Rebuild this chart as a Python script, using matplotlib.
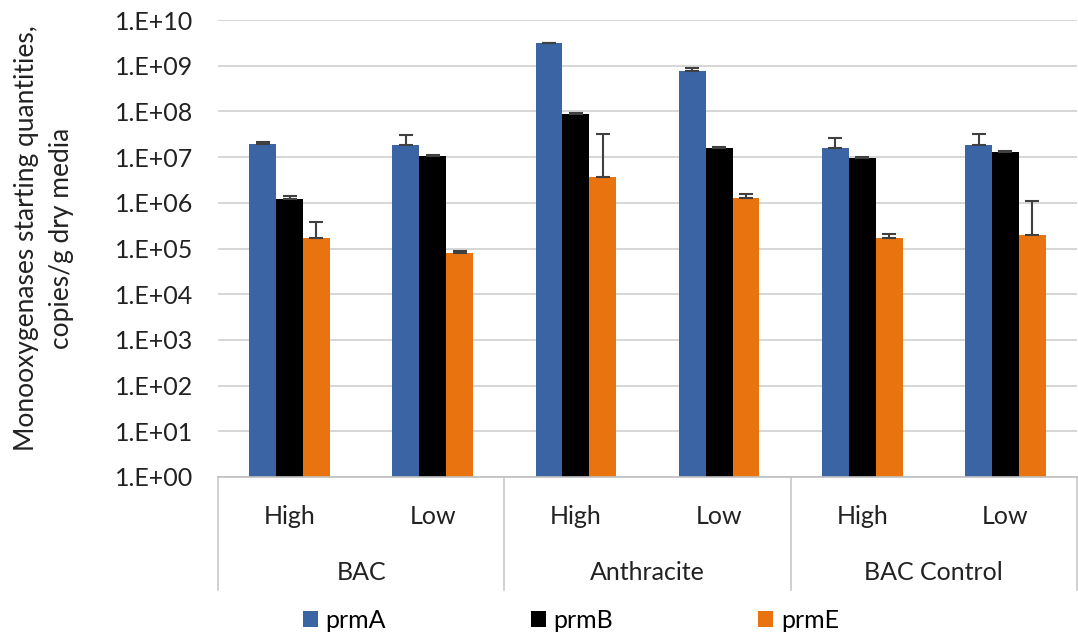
import numpy as np
import matplotlib
matplotlib.use("Agg")
import matplotlib.pyplot as plt
from matplotlib.ticker import FixedLocator, FuncFormatter, NullLocator
from matplotlib.patches import Patch

plt.rcParams['font.family'] = ['Lato', 'DejaVu Sans']

groups = ["BAC", "Anthracite", "BAC Control"]
levels = ["High", "Low"]
series = ["prmA", "prmB", "prmE"]

prmA = [1.95e7, 1.8e7, 3.1e9, 7.7e8, 1.6e7, 1.8e7]
prmB = [1.2e6, 1.05e7, 8.7e7, 1.6e7, 9.7e6, 1.3e7]
prmE = [1.7e5, 8.0e4, 3.7e6, 1.27e6, 1.7e5, 2.0e5]

prmA_err = [1.5e6, 1.2e7, 1.0e8, 1.3e8, 1.0e7, 1.4e7]
prmB_err = [2.0e5, 5.0e5, 3.0e6, 8.0e5, 4.0e5, 4.0e5]
prmE_err = [2.1e5, 8.0e3, 2.8e7, 2.8e5, 4.0e4, 9.0e5]

colors = ["#3a64a4", "#000000", "#e8730f"]
txt = '#222222'

fig = plt.figure(figsize=(10.78, 6.39), dpi=100)
ax = fig.add_axes([218/1078, 1-477/639, (1077-218)/1078, (477-20)/639])

n = len(prmA)
x = np.arange(n)
w = 0.188
vals = [prmA, prmB, prmE]
errs = [prmA_err, prmB_err, prmE_err]
for i, (v, e, c, name) in enumerate(zip(vals, errs, colors, series)):
    xi = x + (i - 1) * w
    ax.bar(xi, v, width=w, color=c, label=name, zorder=2)
    ax.errorbar(xi, v, yerr=[np.zeros(n), e], fmt='none', ecolor='#404040',
                elinewidth=1.5, capsize=5, capthick=1.5, zorder=3)

ax.set_yscale('log')
ax.set_ylim(1, 1e10)
ax.set_xlim(-0.5, n - 0.5)
ax.yaxis.set_major_locator(FixedLocator([10.0**k for k in range(11)]))
ax.yaxis.set_minor_locator(NullLocator())
ax.yaxis.set_major_formatter(FuncFormatter(lambda v, p: "1.E+%02d" % int(round(np.log10(v)))))
ax.tick_params(axis='y', length=0, labelsize=18, pad=18, colors=txt)
ax.set_xticks([])
ax.grid(axis='y', color='#d0d0d0', linewidth=1.2, zorder=0)
for s in ['top', 'right', 'left']:
    ax.spines[s].set_visible(False)
ax.spines['bottom'].set_color('#c0c0c0')
ax.spines['bottom'].set_linewidth(1.2)

trans = ax.get_xaxis_transform()
# separators
for b in [-0.5, 1.5, 3.5, 5.5]:
    ax.plot([b, b], [0, -(590-477)/457], transform=trans, color='#c8c8c8', lw=1.2, clip_on=False)
# level labels
for k in range(n):
    ax.text(k, -(517-477)/457, levels[k % 2], transform=trans, ha='center', va='center',
            fontsize=18, color=txt)
for g, name in enumerate(groups):
    ax.text(2*g + 0.5, -(573-477)/457, name, transform=trans, ha='center', va='center',
            fontsize=18, color=txt)

fig.text(44/1078, 1-238/639, "Monooxygenases starting quantities,\ncopies/g dry media",
         rotation=90, ha='center', va='center', fontsize=19, color=txt,
         linespacing=1.45, multialignment='center')

handles = [Patch(facecolor=c, edgecolor='none') for c in colors]
fig.legend(handles, series, loc='center', bbox_to_anchor=(571/1078, 1-620/639), ncol=3,
           frameon=False, fontsize=18, handlelength=0.6, handleheight=0.6,
           handletextpad=0.3, columnspacing=5.8, borderpad=0, borderaxespad=0)

fig.savefig("out.png", dpi=100)
